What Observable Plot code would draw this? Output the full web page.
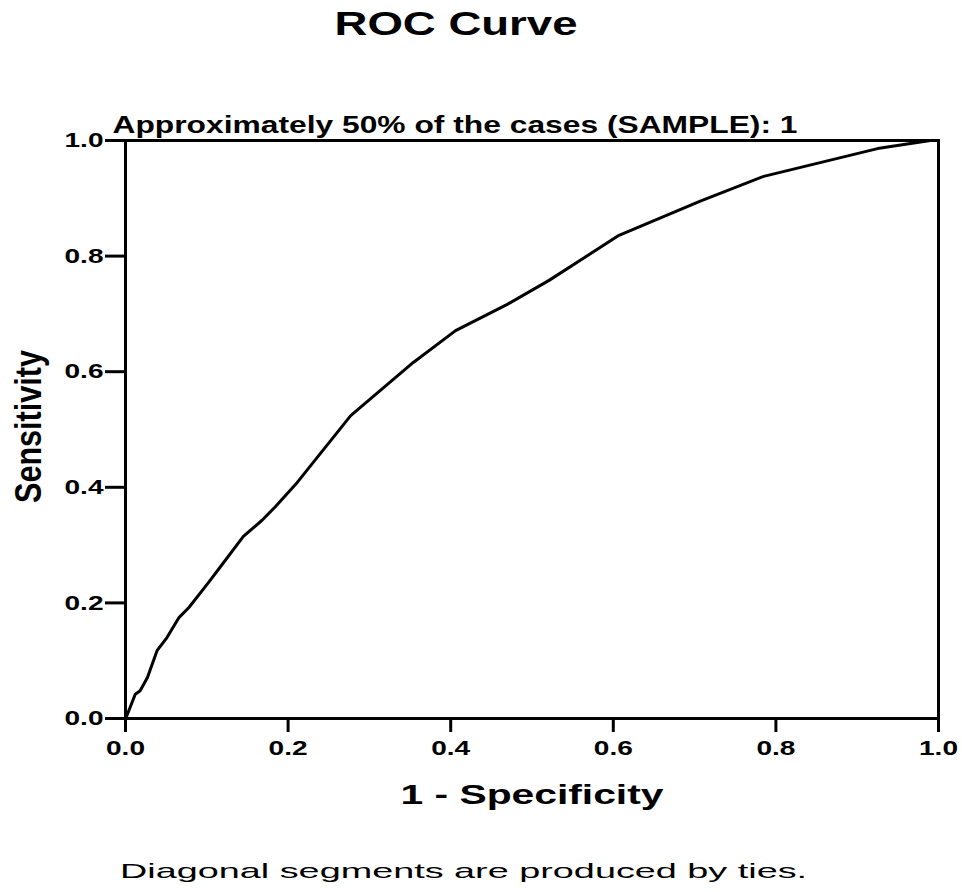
<!DOCTYPE html>
<html><head><meta charset="utf-8">
<script src="https://cdn.jsdelivr.net/npm/d3@7"></script>
<script src="https://cdn.jsdelivr.net/npm/@observablehq/plot@0.6"></script>
<style>
body{margin:0;background:#fff;font-family:"Liberation Sans",Arial,sans-serif;color:#000}
#wrap{position:relative;width:962px;height:892px;overflow:hidden;background:#fff}
#title{position:absolute;left:456px;top:4px;font-size:34px;line-height:38px;font-weight:bold;white-space:nowrap;transform:translateX(-50%) scaleX(1.34);}
#foot{position:absolute;left:120px;top:860px;font-size:21px;line-height:21px;white-space:nowrap;transform-origin:0 0;transform:scaleX(1.8)}
#chart{position:absolute;left:0;top:62px}
</style></head><body>
<div id="wrap"><div id="title"></div><div id="chart"></div><div id="foot"></div></div>
<script>
// ---- data ----
const fpr = [0, 0.002, 0.012, 0.018, 0.027, 0.039, 0.051, 0.066, 0.078, 0.102, 0.117, 0.145, 0.168, 0.184, 0.211, 0.277, 0.354, 0.406, 0.469, 0.521, 0.607, 0.707, 0.785, 0.925, 0.990, 1.0];
const tpr = [0, 0.006, 0.042, 0.048, 0.071, 0.118, 0.140, 0.175, 0.192, 0.235, 0.263, 0.315, 0.343, 0.366, 0.408, 0.524, 0.616, 0.671, 0.716, 0.758, 0.836, 0.895, 0.938, 0.986, 1.0, 1.0];
const xTicks = [0, 0.2, 0.4, 0.6, 0.8, 1.0];
const yTicks = [0, 0.2, 0.4, 0.6, 0.8, 1.0];
const titleText = "ROC Curve";
const subtitleText = "Approximately 50% of the cases (SAMPLE): 1";
const xLabel = "1 - Specificity";
const yLabel = "Sensitivity";
const footText = "Diagonal segments are produced by ties.";

document.getElementById("title").textContent = titleText;
document.getElementById("foot").textContent = footText;

const data = fpr.map((x, i) => ({x, y: tpr[i]}));
const fam = "'Liberation Sans', Arial, Helvetica, sans-serif";

const plot = Plot.plot({
  width: 962, height: 768,
  marginLeft: 125, marginRight: 24, marginTop: 78, marginBottom: 112,
  x: {domain: [0, 1]},
  y: {domain: [0, 1]},
  style: {fontFamily: fam, background: "white", color: "black", overflow: "visible"},
  marks: [
    Plot.line(data, {x: "x", y: "y", stroke: "black", strokeWidth: 3, strokeLinejoin: "round"}),
    Plot.frame({stroke: "black", strokeWidth: 3}),
    Plot.axisX({ticks: xTicks, tickSize: 14, tickPadding: 8, tickFormat: d3.format(".1f"), strokeWidth: 3, fontSize: 21, fontWeight: "bold", label: null}),
    Plot.axisY({ticks: yTicks, tickSize: 20, tickPadding: 2, tickFormat: d3.format(".1f"), strokeWidth: 3, fontSize: 21, fontWeight: "bold", label: null}),
    Plot.text([subtitleText], {frameAnchor: "top-left", textAnchor: "start", lineAnchor: "bottom", dx: -13, dy: -8, fontSize: 23, fontWeight: "bold"}),
    Plot.text([xLabel], {frameAnchor: "bottom", textAnchor: "middle", lineAnchor: "bottom", dy: 85, fontSize: 27, fontWeight: "bold"}),
    Plot.text([yLabel], {frameAnchor: "left", textAnchor: "middle", rotate: -90, lineAnchor: "bottom", dx: -85, dy: -3, fontSize: 37, fontWeight: "bold"})
  ]
});
document.getElementById("chart").appendChild(plot);

// stretch texts to the widths seen in the reference
const widths = new Map([[subtitleText, 685], [xLabel, 263], [yLabel, 153]]);
plot.querySelectorAll("text").forEach(t => {
  const s = t.textContent;
  let w = widths.get(s);
  if (w == null && /^\d\.\d$/.test(s)) w = 39;
  if (w != null) {
    t.setAttribute("textLength", w);
    t.setAttribute("lengthAdjust", "spacingAndGlyphs");
  }
});
</script>
</body></html>
